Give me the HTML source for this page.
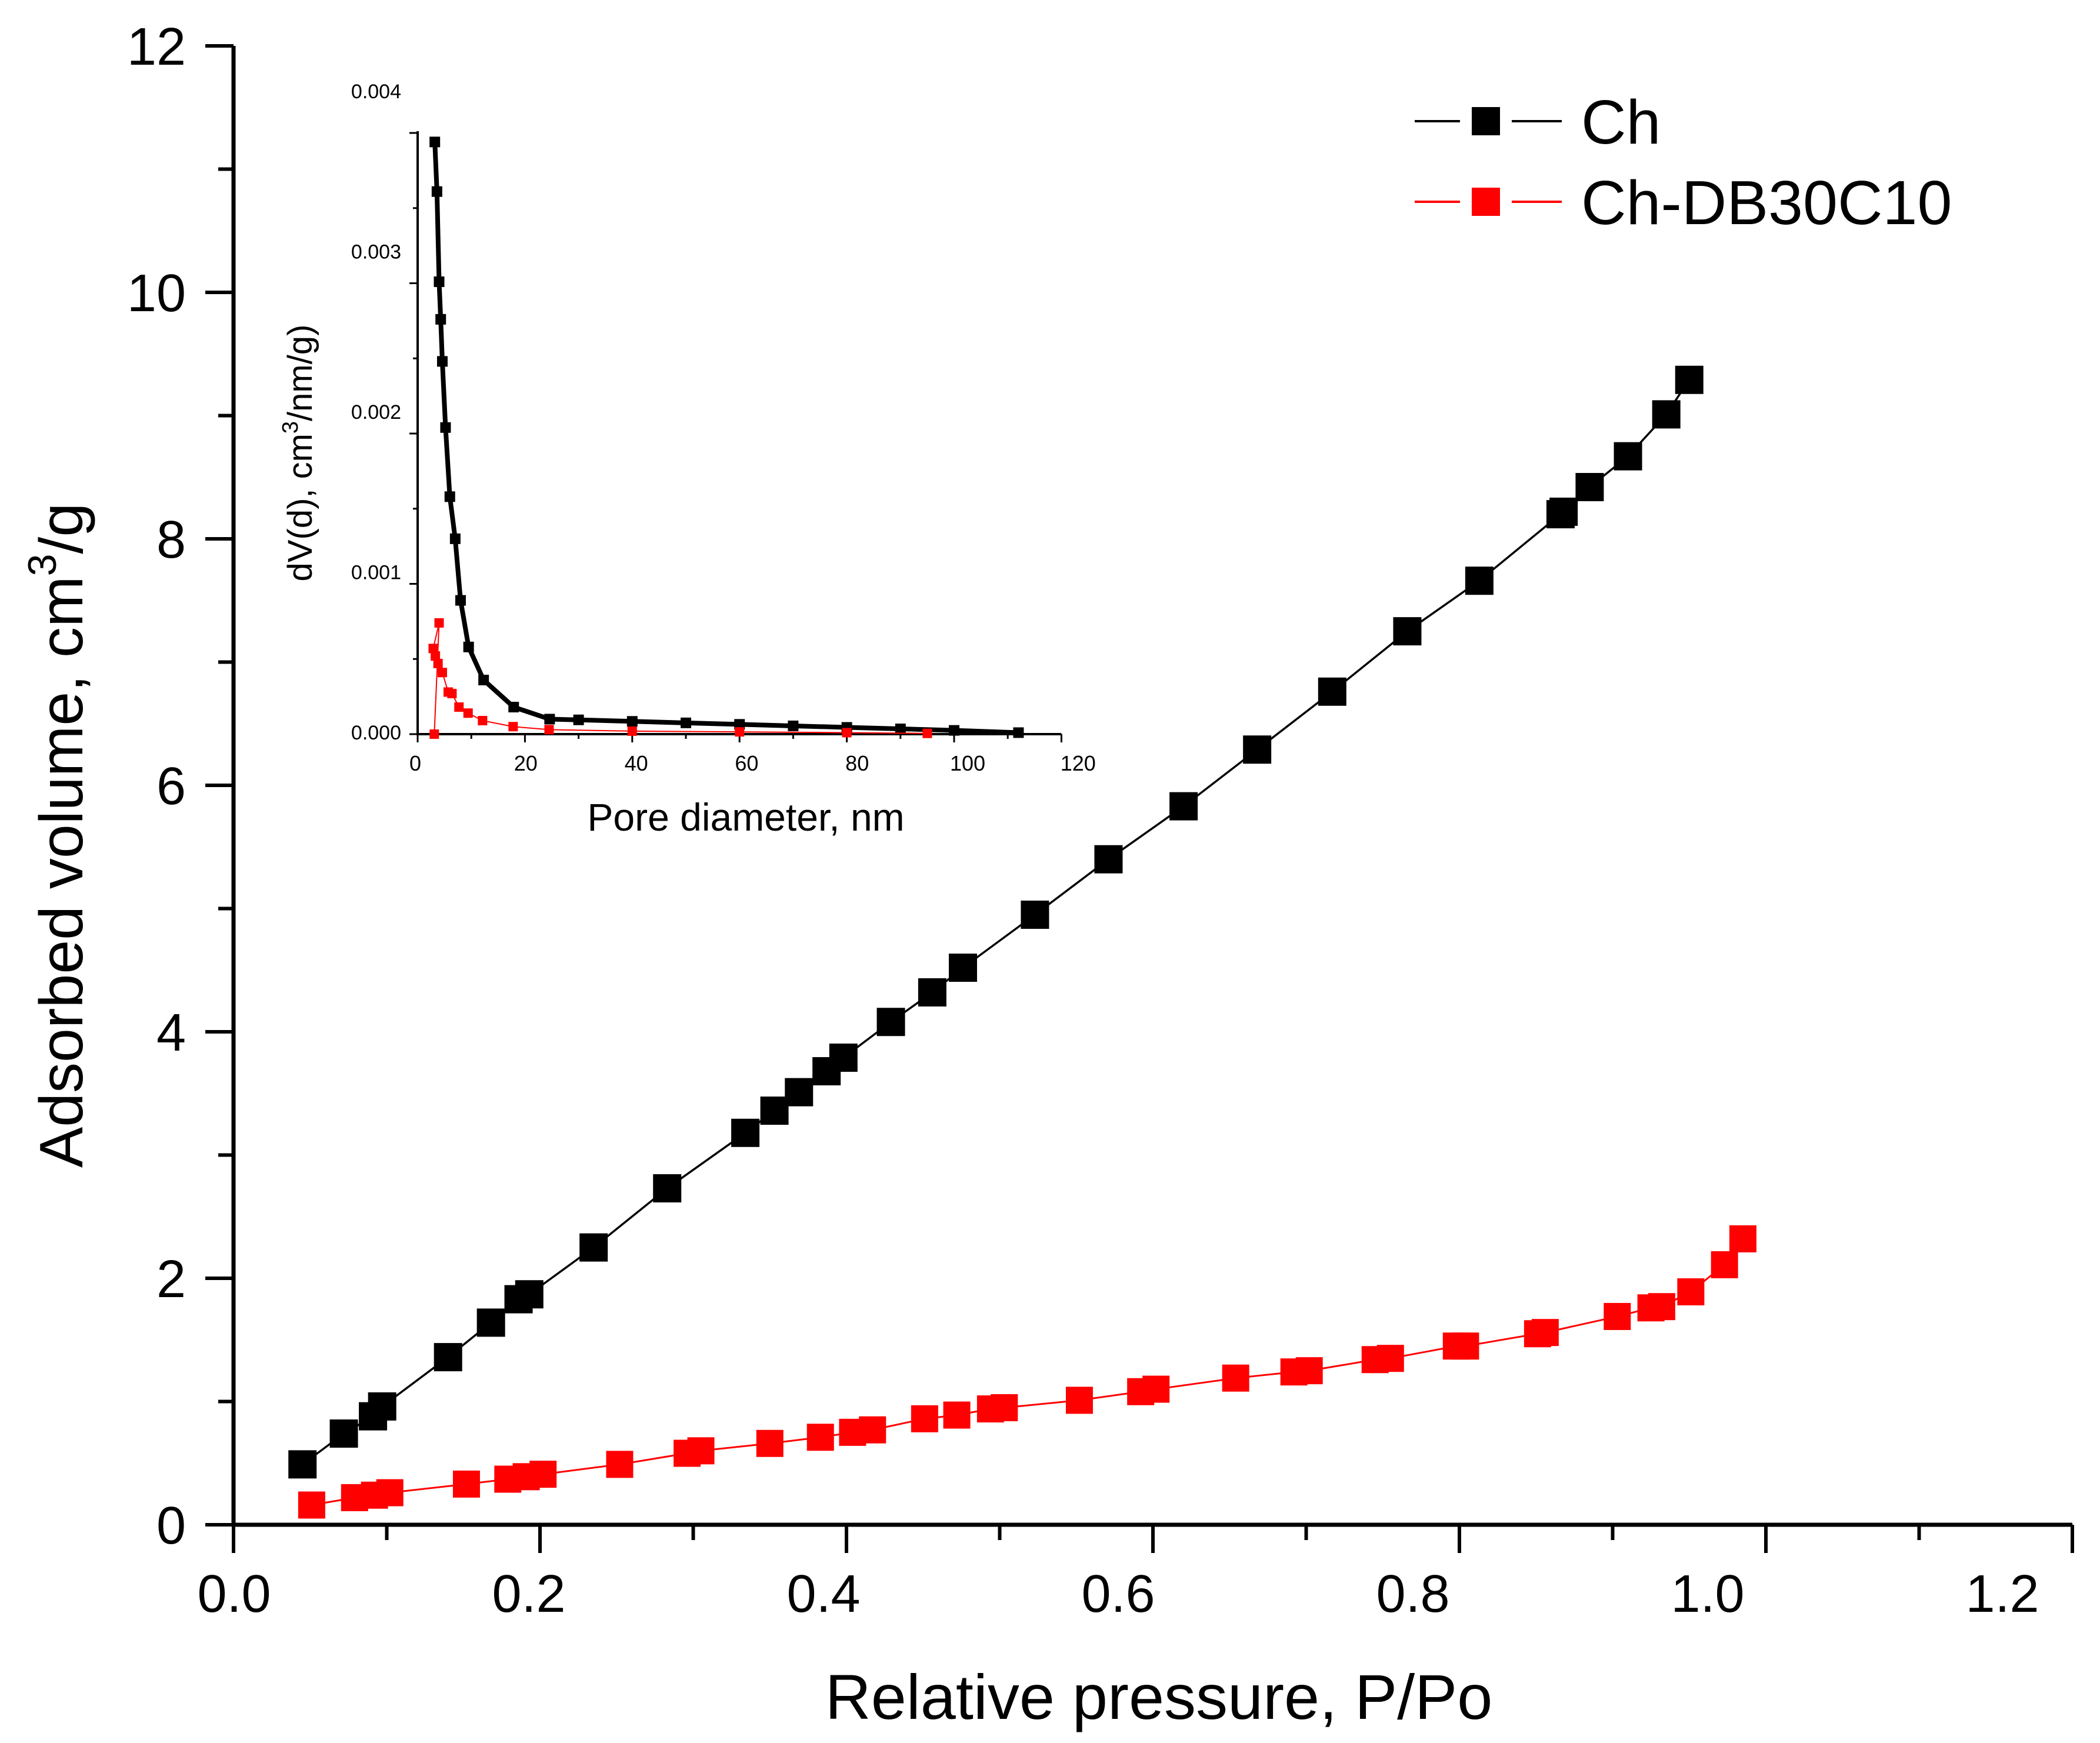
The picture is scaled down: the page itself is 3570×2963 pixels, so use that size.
<!DOCTYPE html>
<html><head><meta charset="utf-8"><style>
html,body{margin:0;padding:0;background:#fff;}
svg{display:block;font-family:"Liberation Sans",Arial,sans-serif;}
</style></head><body>
<svg id="chart" width="3570" height="2963" viewBox="0 0 3570 2963" xmlns="http://www.w3.org/2000/svg">
<rect width="3570" height="2963" fill="#fff"/>
<g id="main"></g>
<g id="inset"></g>
<g id="legend"></g>
</svg>
<script>
// Main chart data
const chX = [0.045,0.072,0.091,0.097,0.140,0.168,0.186,0.193,0.235,0.283,0.334,0.353,0.369,0.387,0.398,0.429,0.456,0.476,0.523,0.571,0.620,0.668,0.717,0.766,0.813,0.866,0.868,0.885,0.910,0.935,0.950];
const chY = [0.49,0.74,0.88,0.96,1.36,1.64,1.83,1.87,2.25,2.73,3.18,3.36,3.51,3.68,3.79,4.08,4.32,4.52,4.95,5.40,5.83,6.29,6.76,7.25,7.66,8.20,8.22,8.42,8.67,9.01,9.29];
const dbX = [0.051,0.079,0.092,0.102,0.152,0.179,0.191,0.202,0.252,0.296,0.305,0.350,0.383,0.404,0.417,0.451,0.472,0.494,0.503,0.552,0.592,0.602,0.654,0.692,0.702,0.745,0.755,0.798,0.804,0.851,0.856,0.903,0.925,0.932,0.951,0.973,0.985];
const dbY = [0.16,0.22,0.24,0.26,0.33,0.37,0.39,0.41,0.49,0.58,0.60,0.66,0.71,0.75,0.77,0.86,0.89,0.94,0.95,1.01,1.08,1.10,1.19,1.24,1.25,1.34,1.35,1.45,1.45,1.55,1.56,1.69,1.76,1.77,1.89,2.11,2.32];
const xTicks = ["0.0","0.2","0.4","0.6","0.8","1.0","1.2"];
const yTicks = ["0","2","4","6","8","10","12"];
// Inset data
const inChX = [3.2,3.6,4.0,4.3,4.6,5.2,6.0,7.0,8.0,9.5,12.3,17.9,24.6,30,40,50,60,70,80,90,100,112];
const inChY = [0.00394,0.00361,0.00301,0.00276,0.00248,0.00204,0.00158,0.00130,0.00089,0.00058,0.00036,0.00018,0.00010,0.000095,0.000085,0.000075,0.000065,0.000055,0.000045,0.000035,0.000025,0.00001];
const inDbX = [3.1,4.0,2.9,3.3,3.8,4.6,5.7,6.4,7.7,9.4,12.1,17.8,24.5,40,60,80,95];
const inDbY = [0,0.00074,0.00057,0.00052,0.00047,0.00041,0.00028,0.00027,0.00018,0.00014,0.00009,0.00005,0.00003,0.00002,0.000015,0.00001,0.000005];
const inXTicks = ["0","20","40","60","80","100","120"];
const inYTicks = ["0.000","0.001","0.002","0.003","0.004"];

const NS="http://www.w3.org/2000/svg";
function mk(parent,tag,attrs,text){const e=document.createElementNS(NS,tag);for(const k in attrs)e.setAttribute(k,attrs[k]);if(text!==undefined)e.textContent=text;parent.appendChild(e);return e;}

const X0=397, XS=2605, Y0=2592, YS=209.5;
const sx=v=>X0+v*XS, sy=v=>Y0-v*YS;
const main=document.getElementById('main');
let e;
e=mk(main,'line',{x1:X0,y1:Y0,x2:sx(1.2),y2:Y0,stroke:'#000','stroke-width':7});


e=mk(main,'line',{x1:X0,y1:Y0+3,x2:X0,y2:sy(12),stroke:'#000','stroke-width':7});


for(let i=0;i<=12;i++){const v=i*0.1;const L=i%2==0?48:26;
 e=mk(main,'line',{x1:sx(v),y1:Y0,x2:sx(v),y2:Y0+L,stroke:'#000','stroke-width':6});
 
 }
xTicks.forEach((t,i)=>{e=mk(main,'text',{x:398+i*0.2*2505,y:2740,'font-size':90,'text-anchor':'middle'},t);
 
 });
for(let i=0;i<=12;i++){const L=i%2==0?48:26;
 e=mk(main,'line',{x1:X0,y1:sy(i),x2:X0-L,y2:sy(i),stroke:'#000','stroke-width':6});
 
 }
yTicks.forEach((t,i)=>{e=mk(main,'text',{x:316,y:sy(+t)+32,'font-size':90,'text-anchor':'end'},t);
 
 });
e=mk(main,'text',{x:1970,y:2922,'font-size':108,'text-anchor':'middle'},'Relative pressure, P/Po');


e=mk(main,'text',{x:0,y:0,'font-size':104,'text-anchor':'middle',transform:'translate(140,1420) rotate(-90)'});
e.innerHTML='Adsorbed volume, cm<tspan dy="-45" font-size="68">3</tspan><tspan dy="45">/g</tspan>';



function series(g,xs,ys,fx,fy,color,lw,ms,name){
 e=mk(g,'polyline',{points:xs.map((x,i)=>fx(x)+','+fy(ys[i])).join(' '),fill:'none',stroke:color,'stroke-width':lw,'stroke-linejoin':'round'});
 
 
 xs.forEach((x,i)=>{e=mk(g,'rect',{x:fx(x)-ms/2,y:fy(ys[i])-ms/2,width:ms,height:ms,fill:color});
  
  });
}
series(main,chX,chY,sx,sy,'#000',3.5,48,'ch');
series(main,dbX,dbY,sx,sy,'#f00',3,46,'ch-db30c10');

const IX0=710, IXS=9.12, IY0=1248, IYS=255500;
const ix=v=>IX0+v*IXS, iy=v=>IY0-v*IYS;
const ins=document.getElementById('inset');
e=mk(ins,'line',{x1:IX0,y1:IY0,x2:ix(120),y2:IY0,stroke:'#000','stroke-width':4});


e=mk(ins,'line',{x1:IX0,y1:IY0+2,x2:IX0,y2:223,stroke:'#000','stroke-width':4});


for(let i=0;i<=12;i++){const L=i%2==0?14:8;
 e=mk(ins,'line',{x1:ix(i*10),y1:IY0,x2:ix(i*10),y2:IY0+L,stroke:'#000','stroke-width':3});
 
 }
for(let i=0;i<=8;i++){const L=i%2==0?14:8;
 e=mk(ins,'line',{x1:IX0,y1:iy(i*0.0005),x2:IX0-L,y2:iy(i*0.0005),stroke:'#000','stroke-width':3});
 
 }
inXTicks.forEach((t,i)=>{e=mk(ins,'text',{x:706+(+t)*9.39,y:1310,'font-size':36,'text-anchor':'middle'},t);
 
 });
inYTicks.forEach((t,i)=>{e=mk(ins,'text',{x:682,y:1245-(+t)*272500+12,'font-size':34,'text-anchor':'end'},t);
 
 });
e=mk(ins,'text',{x:1268,y:1412,'font-size':66,'text-anchor':'middle'},'Pore diameter, nm');


e=mk(ins,'text',{x:0,y:0,'font-size':58,'text-anchor':'middle',transform:'translate(530,770) rotate(-90)'});
e.innerHTML='dV(d), cm<tspan dy="-24" font-size="38">3</tspan><tspan dy="24">/nm/g)</tspan>';


series(ins,inChX,inChY,ix,iy,'#000',8,18,'inset-ch');
series(ins,inDbX,inDbY,ix,iy,'#f00',2,16,'inset-ch-db30c10');

const leg=document.getElementById('legend');
[['Ch','#000',206],['Ch-DB30C10','#f00',343]].forEach(([lab,c,y])=>{
 e=mk(leg,'line',{x1:2405,y1:y,x2:2482,y2:y,stroke:c,'stroke-width':4});
 
 
 e=mk(leg,'line',{x1:2570,y1:y,x2:2655,y2:y,stroke:c,'stroke-width':4});
 
 
 e=mk(leg,'rect',{x:2502,y:y-24,width:48,height:48,fill:c});
 
 
 e=mk(leg,'text',{x:2688,y:y+38,'font-size':106},lab);
 
 
});
</script>
</body></html>
